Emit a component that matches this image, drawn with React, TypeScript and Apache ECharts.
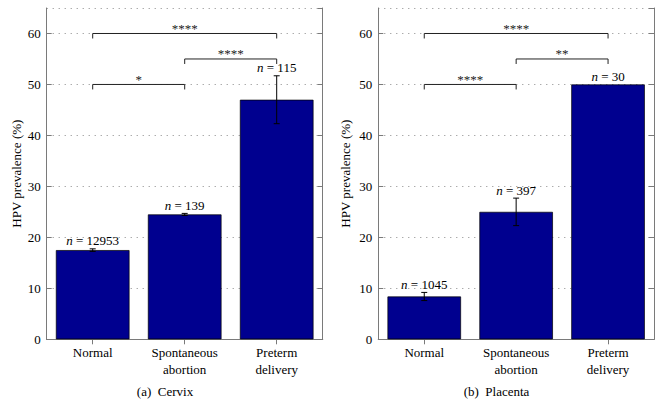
import React, { useEffect, useRef } from "react";
import * as echarts from "echarts";

const categories = ["Normal", "Spontaneous\nabortion", "Preterm\ndelivery"];
const cervixValues = [17.5, 24.5, 47.0];
const cervixErrors = [0.25, 0.2, 4.7];
const cervixN = ["12953", "139", "115"];
const placentaValues = [8.4, 25.0, 50.0];
const placentaErrors = [0.8, 2.7, 0];
const placentaN = ["1045", "397", "30"];
const cervixBrackets = [[0, 2, 60], [1, 2, 55], [0, 1, 50]];
const cervixStars = ["****", "****", "*"];
const placentaBrackets = [[0, 2, 60], [1, 2, 55], [0, 1, 50]];
const placentaStars = ["****", "**", "****"];
const yMin = 0;
const yMax = 65;
const yInterval = 10;

const FONT = "'Liberation Serif', 'Times New Roman', serif";
const GRAY = "#7a7a7a";
const BAR = "#00008f";

function errorRenderer(nLabels: string[]) {
  return (params: any, api: any) => {
    const i = api.value(0);
    const v = api.value(1);
    const e = api.value(2);
    const top = api.coord([i, v + e]);
    const bot = api.coord([i, v - e]);
    const children: any[] = [];
    const cap = 3;
    const ls = { stroke: "#000", lineWidth: 1 };
    if (e > 0) {
      children.push({ type: "line", shape: { x1: top[0], y1: top[1], x2: bot[0], y2: bot[1] }, style: ls });
      children.push({ type: "line", shape: { x1: top[0] - cap, y1: top[1], x2: top[0] + cap, y2: top[1] }, style: ls });
      children.push({ type: "line", shape: { x1: bot[0] - cap, y1: bot[1], x2: bot[0] + cap, y2: bot[1] }, style: ls });
    }
    children.push({
      type: "text",
      x: top[0],
      y: top[1] - 8,
      style: {
        text: "{i|n} = " + nLabels[params.dataIndex],
        fill: "#000",
        fontFamily: FONT,
        fontSize: 13,
        align: "center",
        verticalAlign: "middle",
        rich: { i: { fontStyle: "italic", fontFamily: FONT, fontSize: 13, fill: "#000" } },
      },
    });
    return { type: "group", children };
  };
}

function bracketRenderer(stars: string[]) {
  return (params: any, api: any) => {
    const s = api.value(0);
    const e = api.value(1);
    const lvl = api.value(2);
    const p1 = api.coord([s, lvl]);
    const p2 = api.coord([e, lvl]);
    const d = 5;
    return {
      type: "group",
      children: [
        {
          type: "polyline",
          shape: { points: [[p1[0], p1[1] + d], [p1[0], p1[1]], [p2[0], p2[1]], [p2[0], p2[1] + d]] },
          style: { stroke: "#222", lineWidth: 1, fill: null },
        },
        {
          type: "text",
          x: (p1[0] + p2[0]) / 2,
          y: p1[1] - 5,
          style: {
            text: stars[params.dataIndex],
            fill: "#222",
            fontFamily: FONT,
            fontSize: 13,
            align: "center",
            verticalAlign: "middle",
          },
        },
      ],
    };
  };
}

function xAxes(gridIndex: number) {
  const tick = { show: true, inside: true, alignWithLabel: true, length: 5, lineStyle: { color: GRAY } };
  return [
    {
      gridIndex,
      type: "category",
      data: categories,
      position: "bottom",
      axisLine: { show: true, lineStyle: { color: GRAY, width: 1 } },
      axisTick: tick,
      axisLabel: { color: "#000", fontFamily: FONT, fontSize: 13, lineHeight: 17, margin: 5, interval: 0 },
    },
    {
      gridIndex,
      type: "category",
      data: categories,
      position: "top",
      axisLine: { show: true, lineStyle: { color: GRAY, width: 1 } },
      axisTick: tick,
      axisLabel: { show: false },
    },
  ];
}

function yAxes(gridIndex: number, nameGap: number) {
  const tick = { show: true, inside: true, length: 5, lineStyle: { color: GRAY } };
  return [
    {
      gridIndex,
      type: "value",
      min: yMin,
      max: yMax,
      interval: yInterval,
      position: "left",
      name: "HPV prevalence (%)",
      nameLocation: "middle",
      nameGap,
      nameTextStyle: { color: "#000", fontFamily: FONT, fontSize: 13 },
      axisLine: { show: true, lineStyle: { color: GRAY, width: 1 } },
      axisTick: tick,
      axisLabel: { color: "#000", fontFamily: FONT, fontSize: 13, margin: 6, showMaxLabel: false },
      splitLine: { show: true, lineStyle: { color: "#888", type: [1, 5], width: 1 } },
    },
    {
      gridIndex,
      type: "value",
      min: yMin,
      max: yMax,
      interval: yInterval,
      position: "right",
      axisLine: { show: true, lineStyle: { color: GRAY, width: 1 } },
      axisTick: tick,
      axisLabel: { show: false },
      splitLine: { show: false },
    },
  ];
}

function panelSeries(axisIdx: number, values: number[], errors: number[], ns: string[], brackets: number[][], stars: string[]) {
  return [
    {
      type: "bar",
      xAxisIndex: axisIdx,
      yAxisIndex: axisIdx,
      data: values,
      barWidth: "80%",
      itemStyle: { color: BAR, borderColor: "#000", borderWidth: 0.7 },
    },
    {
      type: "custom",
      xAxisIndex: axisIdx,
      yAxisIndex: axisIdx,
      data: values.map((v, i) => [i, v, errors[i]]),
      encode: { x: 0, y: 1 },
      renderItem: errorRenderer(ns),
      z: 5,
    },
    {
      type: "custom",
      xAxisIndex: axisIdx,
      yAxisIndex: axisIdx,
      data: brackets,
      encode: { x: [0, 1], y: 2 },
      renderItem: bracketRenderer(stars),
      z: 5,
    },
  ];
}

export default function App() {
  const ref = useRef<HTMLDivElement>(null);
  useEffect(() => {
    if (!ref.current) return;
    const chart = echarts.init(ref.current, null, { renderer: "svg" });
    chart.setOption({
      animation: false,
      backgroundColor: "#fff",
      grid: [
        { left: 46.7, top: 8, width: 276, height: 331.3 },
        { left: 378.3, top: 8, width: 275.7, height: 331.3 },
      ],
      xAxis: [...xAxes(0), ...xAxes(1)],
      yAxis: [...yAxes(0, 24), ...yAxes(1, 26)],
      series: [
        ...panelSeries(0, cervixValues, cervixErrors, cervixN, cervixBrackets, cervixStars),
        ...panelSeries(2, placentaValues, placentaErrors, placentaN, placentaBrackets, placentaStars),
      ],
      graphic: [
        {
          type: "text",
          x: 165,
          y: 391,
          style: { text: "(a)\u00a0\u00a0Cervix", fill: "#000", fontFamily: FONT, fontSize: 13, align: "center", verticalAlign: "middle" },
        },
        {
          type: "text",
          x: 496.5,
          y: 391,
          style: { text: "(b)\u00a0\u00a0Placenta", fill: "#000", fontFamily: FONT, fontSize: 13, align: "center", verticalAlign: "middle" },
        },
      ],
    });
    return () => chart.dispose();
  }, []);
  return <div ref={ref} style={{ position: "fixed", left: 0, top: 0, width: 663, height: 418 }} />;
}
